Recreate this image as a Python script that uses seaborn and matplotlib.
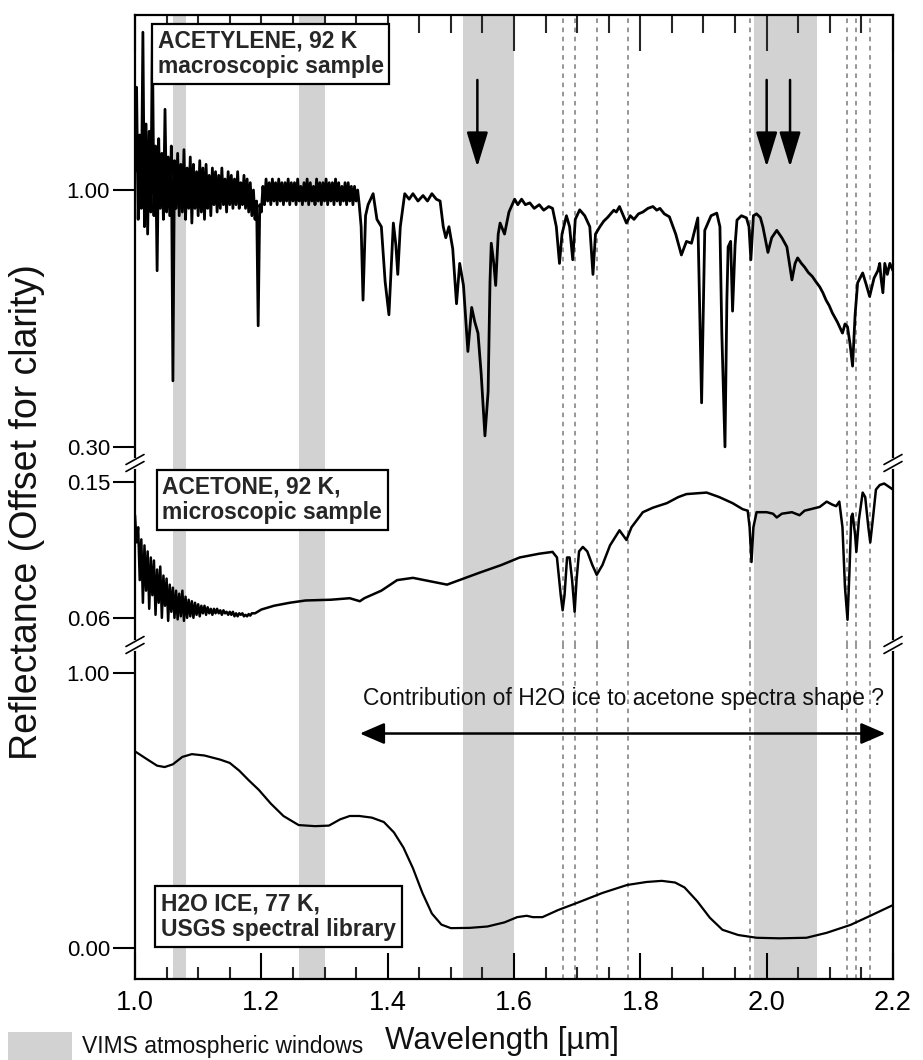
import numpy as np
import pandas as pd
import matplotlib
matplotlib.use("Agg")
import matplotlib.pyplot as plt
import seaborn as sns
from matplotlib.ticker import MultipleLocator, FixedLocator
from matplotlib.lines import Line2D
from matplotlib.patches import Rectangle

# ---------------- DATA ----------------
# VIMS atmospheric windows (µm)
windows = [(1.06, 1.08), (1.26, 1.30), (1.52, 1.60), (1.98, 2.08)]
# dashed reference lines (µm)
dashed_lines = [1.678, 1.696, 1.731, 1.780, 1.973, 2.127, 2.141, 2.164]
# arrow positions on the acetylene panel (µm)
arrow_positions = [1.542, 2.000, 2.037]

# Acetylene: noisy part sampled every 0.0025 µm from 1.000 to 1.355 µm
acetylene_noise = [
    1.05, 1.28, 0.92, 1.15, 0.95, 1.43, 0.90, 1.18, 0.88, 1.16,
    0.94, 1.42, 0.93, 1.12, 0.78, 1.14, 0.95, 1.10, 0.92, 1.22,
    0.94, 1.09, 0.93, 1.12, 0.48, 1.08, 0.95, 1.10, 0.93, 1.07,
    0.94, 1.11, 0.92, 1.06, 0.95, 1.09, 0.91, 1.07, 0.95, 1.05,
    0.93, 1.08, 0.94, 1.06, 0.92, 1.07, 0.95, 1.04, 0.93, 1.06,
    0.96, 1.05, 0.94, 1.04, 0.95, 1.06, 0.96, 1.03, 0.94, 1.05,
    0.96, 1.04, 0.95, 1.03, 0.96, 1.05, 0.95, 1.02, 0.96, 1.04,
    0.95, 1.03, 0.94, 1.02, 0.93, 1.00, 0.92, 0.97, 0.63, 0.96,
    0.94, 1.01, 0.96, 1.03, 0.97, 1.02, 0.96, 1.03, 0.97, 1.02,
    0.96, 1.03, 0.97, 1.02, 0.96, 1.02, 0.97, 1.03, 0.96, 1.02,
    0.97, 1.02, 0.96, 1.03, 0.97, 1.01, 0.96, 1.02, 0.97, 1.03,
    0.96, 1.02, 0.97, 1.01, 0.96, 1.03, 0.97, 1.02, 0.96, 1.02,
    0.97, 1.03, 0.96, 1.02, 0.97, 1.02, 0.96, 1.03, 0.97, 1.02,
    0.96, 1.01, 0.97, 1.02, 0.96, 1.02, 0.97, 1.01, 0.96, 1.01,
    0.97, 1.00, 0.96,
]
acetylene_noise_range = (1.000, 1.355)
acetylene_wl = [
    1.358, 1.361, 1.365, 1.369, 1.377, 1.383, 1.390, 1.396, 1.402, 1.406,
    1.409, 1.413, 1.416, 1.420, 1.427, 1.434, 1.440, 1.448, 1.456, 1.463,
    1.470, 1.477, 1.483, 1.488,
    1.492, 1.497, 1.503, 1.509, 1.514, 1.520, 1.527, 1.533, 1.538, 1.543,
    1.548, 1.554, 1.559, 1.562, 1.564, 1.568, 1.571, 1.575, 1.578, 1.585,
    1.592, 1.601, 1.606, 1.612, 1.618, 1.625, 1.632, 1.640, 1.647, 1.655,
    1.661, 1.667, 1.672, 1.676,
    1.683, 1.688, 1.693, 1.697, 1.704, 1.712, 1.720, 1.725, 1.729, 1.736,
    1.742, 1.748, 1.753, 1.758, 1.762, 1.767, 1.778, 1.784, 1.790, 1.797,
    1.804, 1.812, 1.820, 1.826, 1.831, 1.838, 1.846, 1.856,
    1.865, 1.873, 1.881, 1.891, 1.897, 1.902, 1.912, 1.921, 1.926, 1.929,
    1.934, 1.937, 1.939, 1.943, 1.946, 1.950, 1.953, 1.960, 1.968, 1.972,
    1.975, 1.979, 1.984, 1.990, 1.994, 2.002, 2.008, 2.016, 2.024, 2.032,
    2.036, 2.040, 2.045, 2.049, 2.055, 2.060, 2.066, 2.072, 2.078, 2.084,
    2.089, 2.094, 2.099, 2.104, 2.112,
    2.120, 2.124, 2.128, 2.132, 2.136, 2.140, 2.144, 2.152, 2.158, 2.163,
    2.170, 2.176, 2.179, 2.181, 2.184, 2.187, 2.191, 2.195, 2.200,
]
acetylene_refl = [
    0.90, 0.70, 0.93, 0.96, 0.99, 0.92, 0.90, 0.75, 0.66, 0.80,
    0.91, 0.85, 0.77, 0.90, 0.99, 0.975, 0.99, 0.97, 0.985, 0.97,
    0.99, 0.975, 0.97, 0.90,
    0.87, 0.90, 0.84, 0.69, 0.80, 0.74, 0.56, 0.68, 0.64, 0.61,
    0.50, 0.33, 0.45, 0.75, 0.855, 0.80, 0.74, 0.88, 0.91, 0.88,
    0.94, 0.975, 0.96, 0.975, 0.96, 0.965, 0.95, 0.96, 0.945, 0.955,
    0.95, 0.90, 0.80, 0.88,
    0.93, 0.90, 0.81, 0.92, 0.946, 0.93, 0.90, 0.77, 0.88, 0.90,
    0.915, 0.925, 0.935, 0.945, 0.94, 0.955, 0.91, 0.93, 0.92, 0.935,
    0.94, 0.95, 0.955, 0.945, 0.95, 0.935, 0.927, 0.88,
    0.823, 0.86, 0.855, 0.924, 0.42, 0.89, 0.93, 0.937, 0.90, 0.61,
    0.30, 0.70, 0.845, 0.86, 0.67, 0.85, 0.918, 0.93, 0.924, 0.90,
    0.81, 0.93, 0.935, 0.925, 0.90, 0.83, 0.87, 0.89, 0.87, 0.845,
    0.80, 0.755, 0.80, 0.815, 0.80, 0.79, 0.775, 0.765, 0.75, 0.736,
    0.72, 0.70, 0.685, 0.665, 0.64,
    0.61, 0.635, 0.627, 0.58, 0.52, 0.66, 0.747, 0.774, 0.74, 0.71,
    0.76, 0.78, 0.80, 0.76, 0.72, 0.80, 0.77, 0.80, 0.78,
]

# Acetone: noisy part sampled every 0.0025 µm from 1.000 to 1.185 µm
acetone_noise = [
    0.128, 0.110, 0.120, 0.085, 0.112, 0.070, 0.108, 0.078, 0.104, 0.066,
    0.100, 0.075, 0.098, 0.062, 0.092, 0.070, 0.094, 0.060, 0.088, 0.068,
    0.086, 0.058, 0.082, 0.064, 0.080, 0.060, 0.078, 0.059, 0.076, 0.061,
    0.078, 0.058, 0.074, 0.060, 0.072, 0.061, 0.071, 0.060, 0.070, 0.062,
    0.069, 0.061, 0.068, 0.063, 0.068, 0.062, 0.067, 0.063, 0.066, 0.062,
    0.066, 0.063, 0.066, 0.063, 0.065, 0.062, 0.065, 0.063, 0.064, 0.062,
    0.064, 0.062, 0.064, 0.061, 0.063, 0.061, 0.063, 0.062, 0.063, 0.061,
    0.062, 0.061, 0.0625, 0.0615, 0.063,
]
acetone_noise_range = (1.000, 1.185)
acetone_wl = [
    1.190, 1.200, 1.220, 1.245, 1.270, 1.310, 1.340, 1.356, 1.363, 1.390,
    1.415, 1.440, 1.470, 1.494, 1.520, 1.546, 1.580, 1.609, 1.640, 1.661,
    1.668, 1.674, 1.677, 1.680, 1.684, 1.688, 1.692, 1.696, 1.699, 1.703,
    1.709, 1.716, 1.724, 1.731, 1.740, 1.752, 1.767, 1.774, 1.778, 1.786,
    1.804, 1.820, 1.842, 1.860, 1.873, 1.890, 1.905, 1.925, 1.946, 1.962,
    1.970, 1.973, 1.976, 1.979, 1.984, 2.000, 2.010, 2.016, 2.024, 2.040,
    2.052, 2.060, 2.084, 2.095, 2.104, 2.110, 2.115, 2.120, 2.124, 2.128,
    2.131, 2.134, 2.136, 2.140, 2.142, 2.146, 2.152, 2.156, 2.161, 2.164,
    2.168, 2.173, 2.179, 2.186, 2.193, 2.200,
]
acetone_refl = [
    0.063, 0.0655, 0.068, 0.070, 0.0715, 0.072, 0.073, 0.071, 0.073, 0.078,
    0.085, 0.0865, 0.084, 0.082, 0.086, 0.090, 0.095, 0.100, 0.1025, 0.1037,
    0.100, 0.075, 0.065, 0.075, 0.100, 0.100, 0.085, 0.064, 0.085, 0.104,
    0.107, 0.104, 0.095, 0.0885, 0.095, 0.108, 0.118, 0.114, 0.1116, 0.120,
    0.130, 0.133, 0.136, 0.140, 0.142, 0.1425, 0.143, 0.140, 0.136, 0.132,
    0.131, 0.120, 0.097, 0.120, 0.130, 0.130, 0.129, 0.1265, 0.129, 0.130,
    0.128, 0.131, 0.1335, 0.137, 0.135, 0.134, 0.137, 0.120, 0.080, 0.0587,
    0.090, 0.127, 0.129, 0.115, 0.1037, 0.125, 0.143, 0.140, 0.120, 0.110,
    0.125, 0.145, 0.148, 0.149, 0.147, 0.145,
]

# H2O ice (USGS, 77 K)
ice_wl = [
    1.000, 1.020, 1.035, 1.047, 1.060, 1.075, 1.090, 1.110, 1.135, 1.150,
    1.165, 1.180, 1.196, 1.215, 1.235, 1.259, 1.285, 1.307, 1.325, 1.340,
    1.355, 1.375, 1.394, 1.410, 1.425, 1.440, 1.455, 1.470, 1.485, 1.500,
    1.530, 1.558, 1.585, 1.605, 1.620, 1.630, 1.645, 1.670, 1.700, 1.740,
    1.779, 1.810, 1.834, 1.855, 1.870, 1.890, 1.910, 1.930, 1.955, 1.984,
    2.020, 2.063, 2.095, 2.133, 2.165, 2.200,
]
ice_refl = [
    0.715, 0.685, 0.663, 0.658, 0.668, 0.695, 0.705, 0.700, 0.685, 0.673,
    0.645, 0.610, 0.575, 0.525, 0.480, 0.447, 0.443, 0.445, 0.468, 0.480,
    0.480, 0.474, 0.458, 0.420, 0.365, 0.290, 0.200, 0.125, 0.085, 0.072,
    0.073, 0.078, 0.093, 0.112, 0.117, 0.112, 0.112, 0.138, 0.164, 0.200,
    0.229, 0.240, 0.244, 0.238, 0.220, 0.170, 0.110, 0.066, 0.047, 0.037,
    0.035, 0.037, 0.055, 0.084, 0.118, 0.156,
]

labels = {
    "acetylene": "ACETYLENE, 92 K\nmacroscopic sample",
    "acetone": "ACETONE, 92 K,\nmicroscopic sample",
    "ice": "H2O ICE, 77 K,\nUSGS spectral library",
}
xticks = [1.0, 1.2, 1.4, 1.6, 1.8, 2.0, 2.2]

# ---------------- STYLE ----------------
sns.set_theme(style="white")
plt.rcParams["font.family"] = ["Liberation Sans", "DejaVu Sans"]
plt.rcParams["axes.linewidth"] = 1.6

W, H = 923, 1060
fig = plt.figure(figsize=(W / 100, H / 100), dpi=100)
fig.patch.set_facecolor("white")

L, R = 135, 893


def add_axes(top_px, bottom_px):
    return fig.add_axes([L / W, 1 - bottom_px / H, (R - L) / W, (bottom_px - top_px) / H])


ax_top = add_axes(15, 463)
ax_mid = add_axes(463, 645)
ax_bot = add_axes(645, 979)

GRAY = "#d2d2d2"

# build data frames
ac_noise_wl = np.linspace(*acetylene_noise_range, len(acetylene_noise))
df_acetylene = pd.DataFrame({
    "wl": np.concatenate([ac_noise_wl, acetylene_wl]),
    "r": np.concatenate([acetylene_noise, acetylene_refl]),
})
at_noise_wl = np.linspace(*acetone_noise_range, len(acetone_noise))
df_acetone = pd.DataFrame({
    "wl": np.concatenate([at_noise_wl, acetone_wl]),
    "r": np.concatenate([acetone_noise, acetone_refl]),
})
df_ice = pd.DataFrame({"wl": ice_wl, "r": ice_refl})

for ax in (ax_top, ax_mid, ax_bot):
    ax.set_facecolor("white")
    for a, b in windows:
        ax.axvspan(a, b, color=GRAY, lw=0, zorder=0)
    for xv in dashed_lines:
        ax.axvline(xv, color="#7a7a7a", lw=1.1, ls=(0, (3, 3)), zorder=1)
    ax.set_xlim(1.0, 2.2)
    for s in ax.spines.values():
        s.set_color("black")
        s.set_linewidth(1.6)

sns.lineplot(data=df_acetylene, x="wl", y="r", ax=ax_top, color="black", lw=2.0,
             estimator=None, sort=False, zorder=3)
sns.lineplot(data=df_acetone, x="wl", y="r", ax=ax_mid, color="black", lw=1.8,
             estimator=None, sort=False, zorder=3)
sns.lineplot(data=df_ice, x="wl", y="r", ax=ax_bot, color="black", lw=1.6,
             estimator=None, sort=False, zorder=3)

ax_top.set_ylim(0.256, 1.477)
ax_mid.set_ylim(0.042, 0.1626)
ax_bot.set_ylim(-0.113, 1.102)

ax_top.spines["bottom"].set_visible(False)
ax_mid.spines["top"].set_visible(False)
ax_mid.spines["bottom"].set_visible(False)
ax_bot.spines["top"].set_visible(False)

# y ticks
for ax, ticks in ((ax_top, [0.30, 1.00]), (ax_mid, [0.06, 0.15]), (ax_bot, [0.00, 1.00])):
    ax.yaxis.set_major_locator(FixedLocator(ticks))
    ax.set_yticklabels([f"{t:.2f}" for t in ticks])
    ax.tick_params(axis="y", which="both", left=True, right=False, direction="out",
                   length=16, width=1.5, labelsize=16, pad=2, colors="black")
    ax.set_ylabel("")
    ax.set_xlabel("")

# x ticks
ax_top.xaxis.tick_top()
ax_top.xaxis.set_major_locator(FixedLocator(xticks))
ax_top.xaxis.set_minor_locator(MultipleLocator(0.05))
ax_top.tick_params(axis="x", which="major", direction="in", length=26, width=1.5,
                   top=True, bottom=False, labeltop=False, labelbottom=False)
ax_top.tick_params(axis="x", which="minor", direction="in", length=13, width=1.5,
                   top=True, bottom=False)

ax_mid.tick_params(axis="x", which="both", top=False, bottom=False,
                   labeltop=False, labelbottom=False)

ax_bot.xaxis.set_major_locator(FixedLocator(xticks))
ax_bot.xaxis.set_minor_locator(MultipleLocator(0.05))
ax_bot.set_xticklabels([f"{t:.1f}" for t in xticks])
ax_bot.tick_params(axis="x", which="major", direction="in", length=19, width=1.5,
                   bottom=True, top=False, labelsize=19.5, pad=8, colors="black")
ax_bot.tick_params(axis="x", which="minor", direction="in", length=9, width=1.5,
                   bottom=True, top=False)

# arrows on acetylene panel
for xa in arrow_positions:
    ax_top.annotate("", xy=(xa, 1.063), xytext=(xa, 1.30),
                    arrowprops=dict(arrowstyle="-|>,head_length=0.72,head_width=0.22",
                                    color="black", lw=1.8, shrinkA=0, shrinkB=0,
                                    mutation_scale=30),
                    zorder=5)

# double arrow + comment in ice panel
ax_bot.annotate("", xy=(1.356, 0.78), xytext=(2.188, 0.78),
                arrowprops=dict(arrowstyle="<|-|>,head_length=0.6,head_width=0.26",
                                color="black", lw=1.8, shrinkA=0, shrinkB=0,
                                mutation_scale=25),
                zorder=5)
ax_bot.text(1.774, 0.909, "Contribution of H2O ice to acetone spectra shape ?",
            ha="center", va="center", fontsize=16.5, color="#111111", zorder=6)

# label boxes
box = dict(boxstyle="square,pad=0.25", fc="white", ec="black", lw=1.6)
ax_top.text(0.030, 0.967, labels["acetylene"], transform=ax_top.transAxes, ha="left",
            va="top", fontsize=16.5, fontweight="bold", linespacing=1.15, bbox=box, zorder=6)
ax_mid.text(0.036, 0.93, labels["acetone"], transform=ax_mid.transAxes, ha="left",
            va="top", fontsize=16.5, fontweight="bold", linespacing=1.15, bbox=box, zorder=6)
ax_bot.text(0.034, 0.26, labels["ice"], transform=ax_bot.transAxes, ha="left",
            va="top", fontsize=16.5, fontweight="bold", linespacing=1.15, bbox=box, zorder=6)

# axis titles
fig.text(27 / W, 1 - 512 / H, "Reflectance (Offset for clarity)", rotation=90,
         ha="center", va="center", fontsize=27, color="#111111")
fig.text(502 / W, 1 - 1041 / H, "Wavelength [µm]", ha="center", va="center",
         fontsize=22.5, color="#111111")

# legend for atmospheric windows
fig.add_artist(Rectangle((8 / W, 0), 64 / W, 28 / H, transform=fig.transFigure,
                         color=GRAY, lw=0))
fig.text(82 / W, 1 - 1046 / H, "VIMS atmospheric windows", ha="left", va="center",
         fontsize=16.5, color="#111111")


# axis break marks
def break_mark(xp, yp):
    x0, y0 = xp / W, 1 - yp / H
    dx, dy = 9 / W, 5 / H
    gap = 3.5 / H
    fig.add_artist(Line2D([x0, x0], [y0 - gap, y0 + gap], transform=fig.transFigure,
                          color="white", lw=3, zorder=10))
    for off in (-gap, gap):
        fig.add_artist(Line2D([x0 - dx, x0 + dx], [y0 - dy + off, y0 + dy + off],
                              transform=fig.transFigure, color="black", lw=1.2, zorder=11))


for xp in (L, R):
    break_mark(xp, 463)
    break_mark(xp, 645)

fig.savefig("out.png", dpi=100, facecolor="white")
